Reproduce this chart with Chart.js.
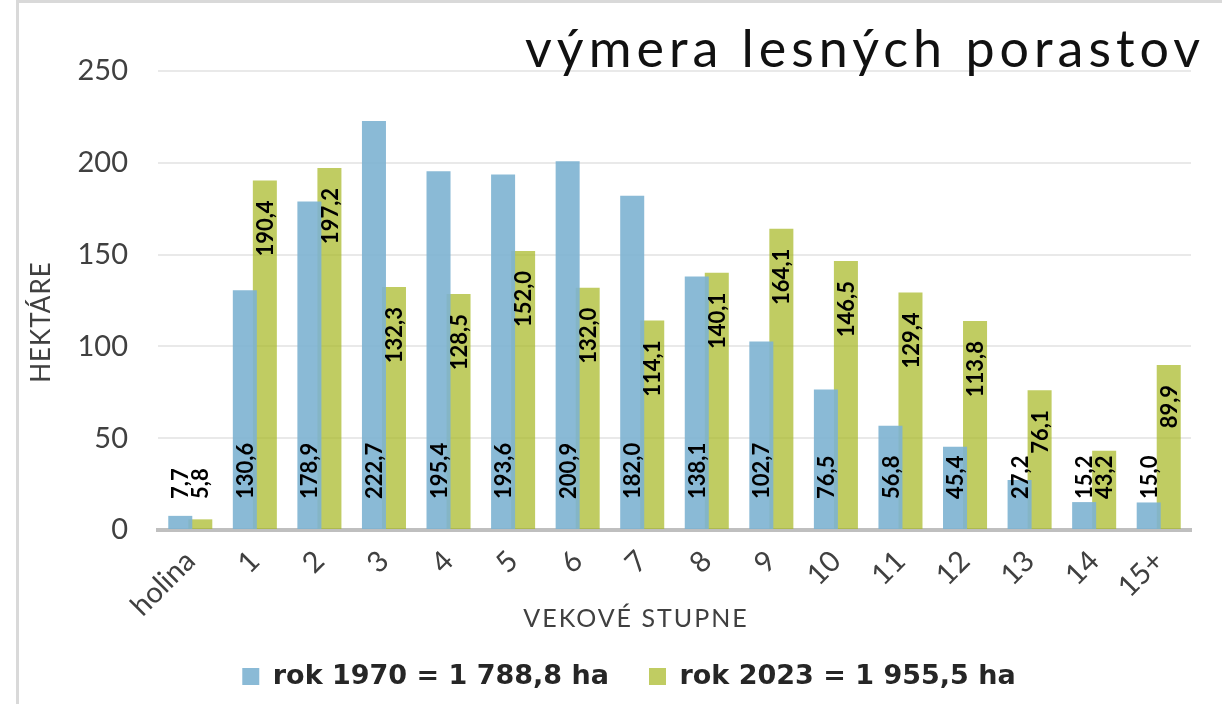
<!DOCTYPE html>
<html>
<head>
<meta charset="utf-8">
<script src="https://cdn.jsdelivr.net/npm/chart.js@4.4.1/dist/chart.umd.min.js"></script>
<style>
  html, body { margin: 0; padding: 0; background: #ffffff; }
  #wrap { width: 1222px; height: 704px; position: relative; }
</style>
</head>
<body>
<div id="wrap"><canvas id="c"></canvas></div>
<script>
// ---- data ----
const categories = ['holina', '1', '2', '3', '4', '5', '6', '7', '8', '9', '10', '11', '12', '13', '14', '15+'];
const values1970 = [7.7, 130.6, 178.9, 222.7, 195.4, 193.6, 200.9, 182.0, 138.1, 102.7, 76.5, 56.8, 45.4, 27.2, 15.2, 15.0];
const values2023 = [5.8, 190.4, 197.2, 132.3, 128.5, 152.0, 132.0, 114.1, 140.1, 164.1, 146.5, 129.4, 113.8, 76.1, 43.2, 89.9];
const seriesNames = ['rok 1970 = 1 788,8 ha', 'rok 2023 = 1 955,5 ha'];
const yTicks = [0, 50, 100, 150, 200, 250];
const chartTitle = 'výmera lesných porastov';
const xTitle = 'VEKOVÉ STUPNE';
const yTitle = 'HEKTÁRE';

const fmt = v => v.toFixed(1).replace('.', ',');

function drawSpaced(ctx, text, x, y, spacing, align) {
  ctx.save();
  ctx.letterSpacing = spacing + 'px';
  ctx.textAlign = align;
  ctx.fillText(text, x, y);
  ctx.restore();
}

const decor = {
  id: 'decor',
  beforeDraw(chart) {
    const ctx = chart.ctx;
    ctx.save();
    ctx.fillStyle = '#ffffff';
    ctx.fillRect(0, 0, chart.width, chart.height);
    ctx.fillStyle = '#d9d9d9';
    ctx.fillRect(16, 0, 3, chart.height);
    ctx.fillRect(16, 0, chart.width - 16, 3);
    ctx.restore();
  },
  afterDatasetsDraw(chart) {
    const ctx = chart.ctx;
    ctx.save();
    ctx.font = 'bold 22px Lato';
    ctx.fillStyle = '#000000';
    ctx.textBaseline = 'middle';
    chart.data.datasets.forEach((ds, di) => {
      const meta = chart.getDatasetMeta(di);
      meta.data.forEach((bar, i) => {
        const txt = fmt(ds.data[i]);
        const w = ctx.measureText(txt).width;
        const baseAnchor = bar.base - 30;
        ctx.save();
        if (di === 0) {
          ctx.translate(bar.x, baseAnchor);
          ctx.rotate(-Math.PI / 2);
          ctx.textAlign = 'left';
        } else {
          const topAnchor = bar.y + 20;
          if (topAnchor + w > baseAnchor) {
            ctx.translate(bar.x, baseAnchor);
            ctx.rotate(-Math.PI / 2);
            ctx.textAlign = 'left';
          } else {
            ctx.translate(bar.x, topAnchor);
            ctx.rotate(-Math.PI / 2);
            ctx.textAlign = 'right';
          }
        }
        ctx.fillText(txt, 0, 1);
        ctx.restore();
      });
    });
    ctx.restore();
  },
  afterDraw(chart) {
    const ctx = chart.ctx;
    const a = chart.chartArea;
    ctx.save();
    ctx.fillStyle = '#111111';
    ctx.textBaseline = 'alphabetic';
    ctx.font = '52px Lato';
    drawSpaced(ctx, chartTitle, a.right + 14, a.top - 4, 5, 'right');

    ctx.fillStyle = '#404040';
    ctx.font = '25px Lato';
    drawSpaced(ctx, xTitle, 636, 627, 2, 'center');

    ctx.translate(50, 322);
    ctx.rotate(-Math.PI / 2);
    ctx.font = '26px Lato';
    drawSpaced(ctx, yTitle, 0, 0, 1, 'center');
    ctx.restore();
  }
};

new Chart(document.getElementById('c'), {
  type: 'bar',
  data: {
    labels: categories,
    datasets: [
      {
        label: seriesNames[0],
        data: values1970,
        backgroundColor: 'rgba(125,178,209,0.9)',
        borderWidth: 0,
        categoryPercentage: 0.62,
        barPercentage: 1.2
      },
      {
        label: seriesNames[1],
        data: values2023,
        backgroundColor: 'rgba(165,182,31,0.7)',
        borderWidth: 0,
        categoryPercentage: 0.62,
        barPercentage: 1.2
      }
    ]
  },
  options: {
    responsive: true,
    maintainAspectRatio: false,
    animation: false,
    layout: { padding: { top: 71, right: 31, left: 67, bottom: 4 } },
    plugins: {
      title: { display: false },
      tooltip: { enabled: false },
      legend: {
        position: 'bottom',
        labels: {
          boxWidth: 17,
          boxHeight: 17,
          padding: 40,
          color: '#262626',
          font: { family: 'DejaVu Sans', weight: 'bold', size: 27 }
        }
      }
    },
    scales: {
      x: {
        grid: { display: false, drawTicks: false },
        border: { display: true, color: '#bfbfbf', width: 4 },
        ticks: {
          minRotation: 45,
          maxRotation: 45,
          padding: 14,
          color: '#404040',
          font: { family: 'Lato', size: 29 }
        },
        afterFit(scale) { scale.height = 93; }
      },
      y: {
        min: 0,
        max: 250,
        afterBuildTicks(scale) { scale.ticks = yTicks.map(v => ({ value: v })); },
        grid: { color: '#e9e9e9', lineWidth: 2, drawTicks: false },
        border: { display: false },
        ticks: {
          padding: 30,
          color: '#404040',
          font: { family: 'Lato', size: 29 }
        },
        afterFit(scale) { scale.width = 91; }
      }
    }
  },
  plugins: [decor]
});
</script>
</body>
</html>
